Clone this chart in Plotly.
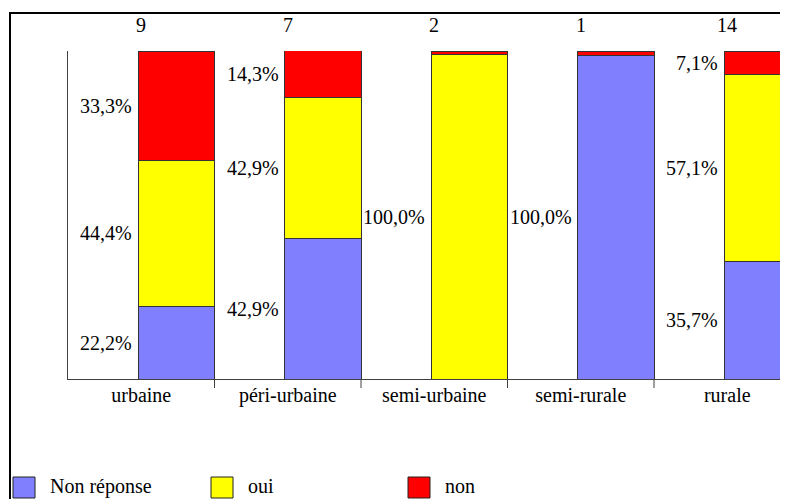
import plotly.graph_objects as go

categories = ["urbaine", "péri-urbaine", "semi-urbaine", "semi-rurale", "rurale"]
counts = [9, 7, 2, 1, 14]
series_names = ["Non réponse", "oui", "non"]
non_reponse = [22.2, 42.9, 0.0, 98.6, 35.7]
oui = [44.4, 42.9, 98.9, 0.0, 57.1]
non = [33.3, 14.3, 1.1, 1.4, 7.1]
label_non_reponse = ["22,2%", "42,9%", None, "100,0%", "35,7%"]
label_oui = ["44,4%", "42,9%", "100,0%", None, "57,1%"]
label_non = ["33,3%", "14,3%", None, None, "7,1%"]
colors = ["#8080FF", "#FFFF00", "#FF0000"]

FONT = "Liberation Serif, Times New Roman, serif"
OFF = 8  # page body margin
W, H = 788 - OFF, 499 - OFF
L, T = 68 - OFF, 51 - OFF
PB = 379 - OFF  # plot bottom in figure px
B = H - PB
PW = W - L
PH = PB - T
CATW = 146.5

series = [non_reponse, oui, non]
labels = [label_non_reponse, label_oui, label_non]

fig = go.Figure()
for name, vals, col in zip(series_names, series, colors):
    fig.add_trace(go.Bar(
        x=categories, y=vals, name=name,
        marker=dict(color=col, line=dict(color="#333333", width=1)),
        offset=-0.02, width=0.52, showlegend=False,
    ))

def px_x(p):
    return (p - OFF - L) / PW

def px_y(p):
    return (PB - (p - OFF)) / PH

annotations = []
for i, cat in enumerate(categories):
    base = 0.0
    for vals, labs in zip(series, labels):
        v = vals[i]
        if labs[i] is not None:
            annotations.append(dict(
                x=i - 0.02, y=base + v / 2, xref="x", yref="y",
                text=labs[i], showarrow=False, xanchor="right", yanchor="middle",
                xshift=-4, font=dict(family=FONT, size=20, color="black"),
            ))
        base += v
    annotations.append(dict(
        x=i, y=px_y(25), xref="x", yref="paper",
        text=str(counts[i]), showarrow=False, xanchor="center", yanchor="middle",
        font=dict(family=FONT, size=20, color="black"),
    ))

shapes = [dict(type="rect", xref="paper", yref="paper",
               x0=px_x(10), x1=px_x(900), y0=px_y(700), y1=px_y(13),
               line=dict(color="black", width=2), fillcolor="rgba(0,0,0,0)")]

# tick marks between categories
for k in range(len(categories) - 1):
    shapes.append(dict(type="line", xref="x", yref="paper",
                       x0=k + 0.5, x1=k + 0.5, y0=0, y1=px_y(388),
                       line=dict(color="#404040", width=1)))

leg_x = [13, 211, 408]
for j, (name, col) in enumerate(zip(series_names, colors)):
    shapes.append(dict(type="rect", xref="paper", yref="paper",
                       x0=px_x(leg_x[j]), x1=px_x(leg_x[j] + 22),
                       y0=px_y(498), y1=px_y(477),
                       line=dict(color="#222222", width=1), fillcolor=col))
    annotations.append(dict(x=px_x(leg_x[j] + 35), y=px_y(486), xref="paper", yref="paper",
                            text=name, showarrow=False, xanchor="left", yanchor="middle",
                            font=dict(family=FONT, size=20, color="black")))

fig.update_layout(
    width=W, height=H, barmode="stack",
    margin=dict(l=L, r=0, t=T, b=B, pad=0),
    paper_bgcolor="white", plot_bgcolor="white",
    font=dict(family=FONT, size=20, color="black"),
    annotations=annotations, shapes=shapes, showlegend=False,
    xaxis=dict(type="category", range=[-0.5, -0.5 + PW / CATW],
               showline=True, linecolor="#404040", linewidth=1,
               ticks="", showgrid=False, ticklabelstandoff=-2,
               tickfont=dict(family=FONT, size=20, color="black")),
    yaxis=dict(range=[0, 100], showline=True, linecolor="#404040", linewidth=1,
               showticklabels=False, ticks="", showgrid=False, zeroline=False),
)

fig.write_html("out.html")
